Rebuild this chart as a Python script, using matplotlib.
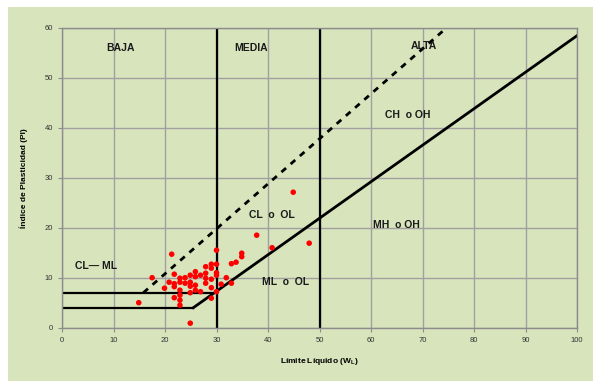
import matplotlib.pyplot as plt
from matplotlib.patches import Rectangle

plt.rcParams['font.family'] = ['Liberation Sans', 'DejaVu Sans']
plt.rcParams['mathtext.default'] = 'regular'

# Muestras: límite líquido y índice de plasticidad
limite_liquido = [14.9, 17.5, 19.9, 20.8, 21.3, 21.8, 21.8, 21.8, 21.8,
                  22.9, 22.9, 22.9, 22.9, 22.9, 22.9, 23.9, 23.9,
                  24.9, 24.9, 24.9, 24.9, 24.9, 25.9, 25.9, 25.9, 25.9,
                  26.9, 26.9, 27.9, 27.9, 27.9, 27.9, 29.0, 29.0, 29.0,
                  29.0, 29.0, 30.0, 30.0, 30.0, 30.0, 30.0, 30.9, 31.9,
                  32.9, 32.9, 33.8, 34.9, 34.9, 37.8, 40.8, 44.9, 48.0]
indice_plasticidad = [5.0, 10.0, 7.9, 9.1, 14.7, 10.7, 8.8, 8.2, 6.0,
                      9.9, 9.1, 7.5, 6.5, 5.5, 4.5, 10.0, 8.9,
                      10.5, 9.1, 8.3, 7.0, 0.9, 11.2, 10.2, 8.5, 7.5,
                      10.5, 7.2, 12.2, 10.9, 9.9, 8.9, 12.7, 11.9, 9.7,
                      8.0, 5.9, 15.5, 12.7, 11.0, 10.5, 7.2, 8.7, 10.0,
                      12.8, 8.9, 13.1, 14.9, 14.2, 18.5, 16.0, 27.1, 16.9]

# Líneas de la carta de plasticidad
linea_a_ll = [25.5, 100]
linea_a_pi = [4.0, 58.4]
linea_u_ll = [15.8, 74.7]
linea_u_pi = [7.0, 60.0]
tramo_7_ll = [0, 29.6]
tramo_4_ll = [0, 25.5]
limites_ll = [30, 50]

etiquetas = [('BAJA', 11.3, 56.0), ('MEDIA', 36.7, 56.0), ('ALTA', 70.3, 56.4),
             ('CH  o OH', 67.2, 42.6), ('CL  o  OL', 40.8, 22.5),
             ('MH  o OH', 64.9, 20.5), ('ML  o  OL', 43.5, 9.2),
             ('CL— ML', 6.6, 12.3)]

fondo = '#D8E4BC'
fig = plt.figure(figsize=(5.93, 3.81), dpi=100)
fig.patches.append(Rectangle((8 / 593, 0), 1, 1 - 7 / 381, transform=fig.transFigure,
                             facecolor=fondo, edgecolor='none', zorder=-10))
ax = fig.add_axes([62 / 593, 1 - 327.7 / 381, 515 / 593, 300 / 381])
ax.set_facecolor(fondo)

ax.set_xlim(0, 100)
ax.set_ylim(0, 60)
ax.set_xticks(range(0, 101, 10))
ax.set_yticks(range(0, 61, 10))
ax.grid(True, color='#a0a0a0', linewidth=1.0)
ax.set_axisbelow(True)
for s in ax.spines.values():
    s.set_color('#8c8c8c')
    s.set_linewidth(1.0)
ax.tick_params(labelsize=5.5, colors='#8c8c8c', labelcolor='#333333', length=3, width=0.8)

ax.plot(linea_a_ll, linea_a_pi, color='black', lw=2)
ax.plot(linea_u_ll, linea_u_pi, color='black', lw=2, ls=(0, (2.2, 2.2)))
ax.plot(tramo_7_ll, [7, 7], color='black', lw=1.6)
ax.plot(tramo_4_ll, [4, 4], color='black', lw=1.6)
for x in limites_ll:
    ax.plot([x, x], [0, 60], color='black', lw=1.6)

ax.scatter(limite_liquido, indice_plasticidad, s=16, color='#ff0000',
           edgecolors='none', zorder=5, clip_on=False)

for texto, x, y in etiquetas:
    ax.text(x, y, texto, ha='center', va='center', fontsize=7.5,
            fontweight='bold', color='#1a1a1a')

ax.set_xlabel('Límite Líquido (W$_L$)', fontsize=6, fontweight='bold', labelpad=9)
ax.set_ylabel('Índice de Plasticidad (PI)', fontsize=6, fontweight='bold', labelpad=12)

fig.savefig('out.png', dpi=100)
